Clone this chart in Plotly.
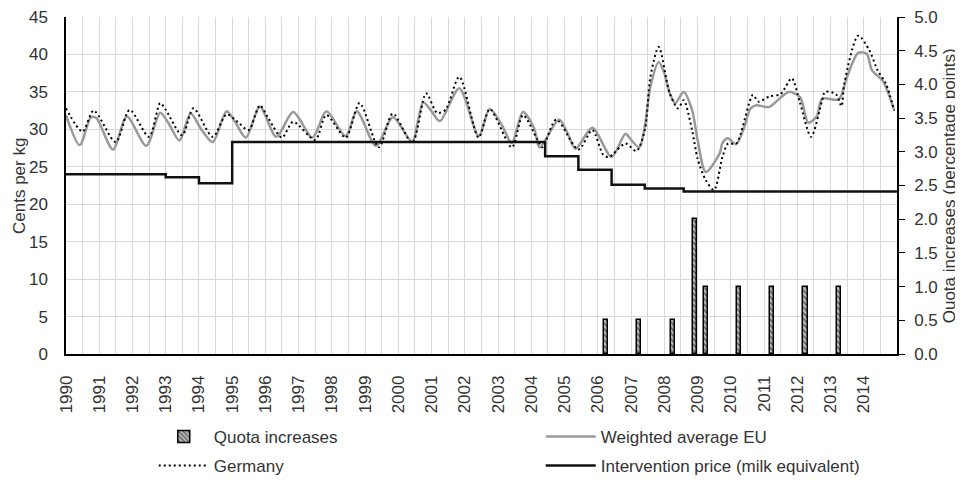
import plotly.graph_objects as go

# ---------------- data ----------------
years = list(range(1990, 2015))

eu_dates = ["1990-01","1990-06","1990-10","1990-12","1991-06","1991-11","1992-06","1992-11","1993-02",
            "1993-06","1993-10","1994-02","1994-06","1994-11","1995-02","1995-06","1995-11","1996-05",
            "1996-11","1997-06","1997-11","1998-06","1998-10","1999-05","1999-11","2000-06","2000-08",
            "2000-10","2001-01","2001-04","2001-11","2002-06","2002-10","2003-02","2003-06","2003-10",
            "2004-02","2004-04","2004-11","2005-02","2005-05","2005-11","2006-06","2006-11","2007-01",
            "2007-04","2007-06","2007-08","2007-11","2008-01","2008-03","2008-05","2008-08","2008-11",
            "2009-01","2009-04","2009-09","2009-10","2009-12","2010-03","2010-06","2010-08","2010-10",
            "2011-03","2011-06","2011-10","2012-02","2012-05","2012-08","2012-10","2013-04","2013-07",
            "2013-11","2014-02","2014-04","2014-08","2014-12"]
eu_values = [31.9,27.9,31.6,31.5,27.3,31.7,27.8,32.2,30.8,
             28.5,32.1,29.9,28.3,32.4,31.0,28.9,33.0,29.0,
             32.3,28.9,32.4,29.1,32.4,27.8,31.6,28.3,31.0,
             33.6,32.4,31.1,35.5,29.1,32.7,30.8,28.2,32.3,
             30.1,27.6,31.3,29.5,27.4,30.2,26.3,29.4,28.6,
             27.6,30.4,35.7,39.0,37.5,34.8,33.5,35.0,32.6,
             28.6,24.3,26.8,28.2,28.8,28.0,30.4,32.7,33.2,
             33.0,33.9,35.0,34.3,30.9,31.7,34.1,34.0,37.0,
             40.2,40.1,37.9,36.4,32.5]

de_dates = ["1990-01","1990-07","1990-11","1991-07","1991-12","1992-07","1992-11","1993-01","1993-07",
            "1993-11","1994-06","1994-11","1995-03","1995-07","1995-11","1996-02","1996-07","1996-11",
            "1997-07","1997-11","1998-06","1998-11","1999-06","1999-11","2000-06","2000-11","2001-03",
            "2001-06","2001-11","2002-06","2002-10","2003-06","2003-10","2004-03","2004-05","2004-10",
            "2005-06","2005-11","2006-03","2006-05","2006-11","2007-03","2007-06","2007-08","2007-11",
            "2008-03","2008-06","2008-08","2008-11","2009-01","2009-04","2009-07","2009-10","2009-12",
            "2010-03","2010-09","2010-11","2011-03","2011-07","2011-11","2012-02","2012-06","2012-10",
            "2012-11","2013-03","2013-05","2013-06","2013-11","2014-03","2014-06","2014-09","2014-12"]
de_values = [32.8,29.7,32.5,28.3,32.6,29.0,33.5,32.6,29.2,
             32.8,29.0,32.0,31.0,29.9,33.2,31.5,28.9,31.0,
             28.6,31.9,28.9,33.5,27.6,32.1,28.2,34.8,32.2,
             32.6,37.0,28.9,32.7,27.6,31.9,28.8,27.6,31.3,
             27.3,29.9,26.6,26.3,28.1,27.1,29.9,37.0,41.0,
             34.8,32.8,33.9,29.9,26.1,23.2,21.9,26.3,28.1,
             28.1,34.6,33.7,34.4,34.7,36.8,33.5,29.0,33.9,
             35.0,34.7,33.1,36.1,42.5,40.6,37.9,36.1,32.5]

iv_dates = ["1990-01","1993-01","1994-01","1995-01","2004-06","2005-06","2006-06","2007-06","2008-08","2014-12-31"]
iv_values = [24.0,23.6,22.8,28.3,26.4,24.6,22.6,22.1,21.7,21.7]

quota_dates = ["2006-04-01","2007-04-01","2008-04-01","2008-12-01","2009-04-01",
               "2010-04-01","2011-04-01","2012-04-01","2013-04-01"]
quota_values = [0.5,0.5,0.5,2.0,1.0,1.0,1.0,1.0,1.0]

# ---------------- figure ----------------
FONT = "Liberation Sans, Arial, sans-serif"
TXT = "#333333"
GRID = "#d9d9d9"

fig = go.Figure()

fig.add_trace(go.Bar(
    x=quota_dates, y=quota_values, name="Quota increases", yaxis="y2",
    width=45 * 86400000,
    marker=dict(color="white", line=dict(color="black", width=1.5),
                pattern=dict(shape="\\", fgcolor="black", bgcolor="#bbbbbb", size=4, solidity=0.4)),
    legend="legend"))

fig.add_trace(go.Scatter(
    x=eu_dates, y=eu_values, name="Weighted average EU", mode="lines",
    line=dict(color="#999999", width=2.5, shape="spline", smoothing=0.8),
    legend="legend"))

fig.add_trace(go.Scatter(
    x=de_dates, y=de_values, name="Germany", mode="lines",
    line=dict(color="black", width=2, dash="2px,3px", shape="spline", smoothing=0.8),
    legend="legend2"))

fig.add_trace(go.Scatter(
    x=iv_dates, y=iv_values, name="Intervention price (milk equivalent)", mode="lines",
    line=dict(color="#111111", width=2.5, shape="hv"),
    legend="legend2"))

leg_common = dict(orientation="h", xanchor="left", yanchor="middle",
                  font=dict(family=FONT, size=17, color=TXT),
                  entrywidth=322, entrywidthmode="pixels", itemwidth=50,
                  bgcolor="rgba(0,0,0,0)")

# the page body adds an 8px offset, so the figure is 8px smaller than the window
fig.update_layout(
    width=955, height=472,
    margin=dict(l=58, r=66, t=9, b=126, autoexpand=False),
    plot_bgcolor="white", paper_bgcolor="white",
    font=dict(family=FONT, size=17, color=TXT),
    bargap=0,
    xaxis=dict(
        type="date", range=["1990-01-01", "2015-01-01"], automargin=False,
        tickvals=[f"{y}-01-01" for y in years], ticktext=[str(y) for y in years],
        tickangle=-90, showgrid=True, gridcolor=GRID, gridwidth=1,
        minor=dict(dtick="M6", tick0="1990-01-01", showgrid=True, gridcolor=GRID, gridwidth=1),
        showline=True, linecolor="black", linewidth=1.5, ticks="",
        ticklabelstandoff=13, ticklabeloverflow="allow",
        tickfont=dict(family=FONT, size=17, color=TXT)),
    yaxis=dict(
        range=[0, 45], dtick=5, showgrid=True, gridcolor=GRID, gridwidth=1, automargin=False,
        showline=True, linecolor="black", linewidth=1.5, ticks="",
        zeroline=False, ticklabelstandoff=13, ticklabeloverflow="allow",
        tickfont=dict(family=FONT, size=17, color=TXT)),
    yaxis2=dict(
        range=[0, 5], dtick=0.5, tickformat=".1f", overlaying="y", side="right",
        showgrid=False, zeroline=False, automargin=False,
        showline=True, linecolor="black", linewidth=1.5,
        ticks="outside", ticklen=6, tickcolor="black", ticklabelstandoff=6,
        ticklabeloverflow="allow",
        tickfont=dict(family=FONT, size=17, color=TXT)),
    legend=dict(x=0.1056, y=-0.246, **leg_common),
    legend2=dict(x=0.1056, y=-0.332, **leg_common),
    annotations=[
        dict(text="Cents per kg", textangle=-90, xref="paper", yref="paper",
             x=-0.056, y=0.5, xanchor="center", yanchor="middle", showarrow=False,
             font=dict(family=FONT, size=17, color=TXT)),
        dict(text="Quota increases (percentage points)", textangle=-90, xref="paper", yref="paper",
             x=1.0635, y=0.5, xanchor="center", yanchor="middle", showarrow=False,
             font=dict(family=FONT, size=17, color=TXT)),
    ],
)

fig.write_html("out.html")
